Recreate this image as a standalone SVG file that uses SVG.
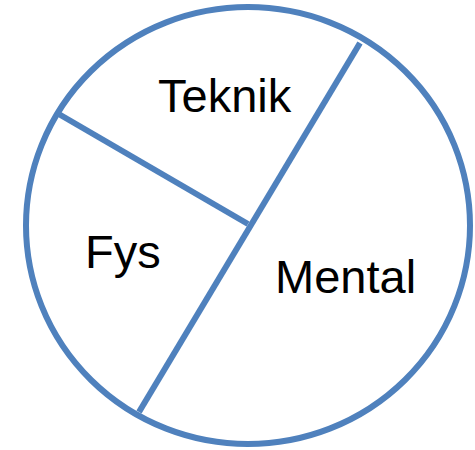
<svg xmlns="http://www.w3.org/2000/svg" width="475" height="450" viewBox="0 0 475 450">
<style>
.s{fill:none;stroke:#4F81BD;stroke-width:6;stroke-linecap:butt}
.t{font-family:"Liberation Sans",Arial,sans-serif;font-size:47px;fill:#000}
</style>
<rect width="475" height="450" fill="#fff"/>
<g id="pie">
<ellipse class="s" cx="248" cy="225.5" rx="222" ry="218.5"/>
</g>
<g id="connectors">
<line class="s" x1="360" y1="43" x2="139" y2="412"/>
<line class="s" x1="57" y1="113" x2="248" y2="224"/>
</g>
<g id="teknik"><text class="t" x="158" y="112">Teknik</text></g>
<g id="fys"><text class="t" x="85" y="268">Fys</text></g>
<g id="mental"><text class="t" x="275" y="293">Mental</text></g>
</svg>
